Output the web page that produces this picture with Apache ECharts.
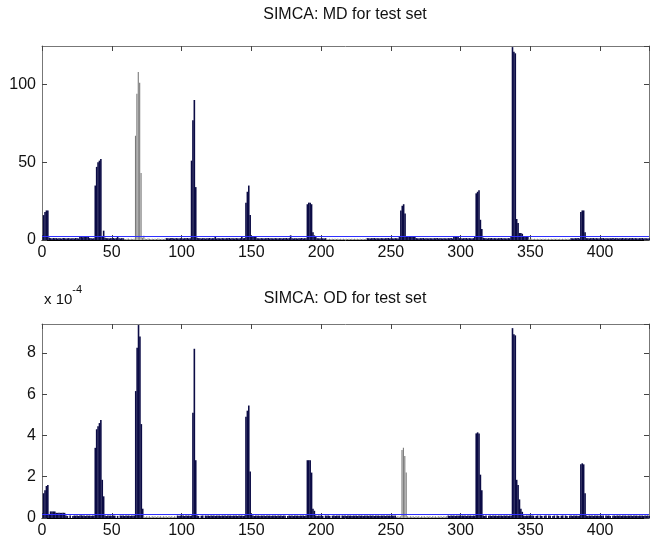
<!DOCTYPE html>
<html>
<head>
<meta charset="utf-8">
<script src="https://cdn.jsdelivr.net/npm/echarts@6/dist/echarts.min.js"></script>
<style>
  html, body { margin: 0; padding: 0; background: #fff; }
  #chart { width: 650px; height: 541px; }
</style>
</head>
<body>
<div id="chart"></div>
<script>
// sample index runs 1..435, MD values per sample
const mdValues = [
  16, 18, 19, 19, 1.5, 1.2, 1.0, 1.3, 1.1, 1.2,
  1.0, 1.2, 1.1, 0.9, 1.3, 1.2, 1.0, 1.1, 1.2, 1.0,
  1.1, 1.2, 1.0, 1.3, 1.1, 1.0, 2.0, 2.2, 1.8, 2.0,
  2.1, 1.9, 2.0, 1.2, 1.1, 1.0, 1.2, 35, 47, 50,
  51, 52, 2.0, 6, 1.5, 1.2, 1.1, 1.0, 1.2, 1.1,
  1.3, 1.0, 1.2, 2.5, 1.1, 1.0, 1.2, 1.1, 0.8, 0.7,
  0.8, 0.9, 0.7, 0.8, 0.6, 0.8, 67, 94, 108, 101,
  43, 1.5, 2.7, 0.8, 0.7, 0.9, 0.8, 0.7, 0.8, 0.6,
  0.8, 0.7, 0.9, 0.8, 0.7, 0.8, 0.7, 0.8, 1.2, 1.1,
  1.0, 1.2, 1.3, 1.1, 1.0, 1.2, 1.1, 1.0, 1.2, 1.1,
  1.0, 1.2, 1.1, 1.3, 1.0, 1.2, 51, 77, 90, 34,
  1.5, 1.2, 1.1, 1.0, 1.2, 1.1, 1.0, 1.2, 1.1, 1.3,
  1.0, 1.2, 1.1, 2.5, 1.0, 1.2, 1.1, 1.0, 1.2, 1.1,
  1.0, 1.2, 1.1, 1.3, 1.0, 1.2, 1.1, 1.0, 1.2, 1.1,
  1.0, 1.2, 2.0, 1.1, 1.3, 24, 31, 35, 16, 2.5,
  2.5, 2.5, 2.0, 1.2, 1.1, 1.0, 1.2, 1.1, 1.0, 1.2,
  1.1, 1.3, 1.0, 1.2, 1.1, 1.0, 1.2, 1.1, 1.0, 1.2,
  1.1, 1.0, 1.2, 1.1, 1.3, 1.0, 1.2, 3.0, 1.1, 1.0,
  1.2, 1.1, 1.0, 1.2, 1.1, 1.3, 1.0, 1.2, 1.1, 23,
  24, 24, 23, 5, 3, 2.5, 1.2, 1.1, 1.0, 1.2,
  1.1, 1.0, 1.2, 0.8, 0.6, 0.8, 0.7, 0.8, 0.6, 0.8,
  0.7, 0.8, 0.6, 0.8, 0.7, 0.8, 0.6, 0.8, 0.7, 0.8,
  0.6, 0.8, 0.7, 0.8, 0.6, 0.8, 0.7, 0.8, 0.6, 0.8,
  0.7, 0.8, 1.2, 1.1, 1.0, 1.2, 1.1, 1.3, 1.0, 1.2,
  1.1, 1.0, 1.2, 1.1, 1.0, 1.2, 1.1, 1.3, 1.0, 1.2,
  1.1, 1.0, 1.2, 1.1, 1.0, 2.0, 19, 22, 23, 17,
  2.5, 2.2, 2.0, 2.2, 2.0, 2.1, 2.0, 1.2, 1.1, 1.0,
  1.2, 1.1, 1.3, 1.0, 1.2, 1.1, 1.0, 1.2, 1.1, 1.0,
  1.2, 1.1, 1.3, 1.0, 1.2, 1.1, 1.0, 1.2, 1.1, 1.0,
  1.2, 1.1, 1.3, 1.0, 2.5, 2.5, 2.2, 2.5, 1.2, 1.1,
  1.0, 1.2, 1.1, 1.3, 1.0, 1.2, 1.1, 1.0, 1.2, 2.0,
  30, 31, 32, 13, 7, 1.5, 1.2, 1.1, 1.0, 1.2,
  1.1, 1.3, 1.0, 1.2, 1.1, 1.0, 1.2, 1.1, 1.3, 1.0,
  1.2, 1.1, 1.0, 1.2, 1.1, 2.0, 124, 121, 120, 13.5,
  11, 4.5, 4.5, 4.0, 2.5, 2.5, 2.2, 2.5, 0.8, 0.6,
  0.8, 0.7, 0.8, 0.6, 0.8, 0.7, 0.8, 0.6, 0.8, 0.7,
  0.8, 0.6, 0.8, 0.7, 0.8, 0.6, 0.8, 0.7, 0.8, 0.6,
  0.8, 0.7, 0.8, 0.6, 0.8, 0.7, 0.8, 0.6, 1.2, 1.1,
  1.0, 1.2, 1.1, 1.3, 1.0, 18, 19, 19, 5, 1.2,
  1.1, 1.0, 1.2, 1.1, 1.3, 1.0, 1.2, 1.1, 1.0, 1.2,
  1.1, 1.3, 1.0, 1.2, 1.1, 1.0, 1.2, 1.1, 1.3, 1.0,
  1.2, 1.1, 1.0, 1.2, 1.1, 1.3, 1.0, 1.2, 1.1, 1.0,
  1.2, 1.1, 1.3, 1.0, 1.2, 1.1, 1.0, 1.2, 1.1, 1.3,
  1.0, 1.2, 1.1, 1.0, 1.2
];

// OD values, in units of 1e-4
const odValues = [
  1.2, 1.35, 1.55, 1.6, 0.15, 0.32, 0.32, 0.32, 0.32, 0.25,
  0.25, 0.25, 0.25, 0.25, 0.25, 0.25, 0.12, 0.1, 0, 0.12,
  0, 0.1, 0.12, 0.11, 0.12, 0.1, 0.12, 0.13, 0.11, 0.12,
  0.1, 0.12, 0.11, 0.12, 0.1, 0.12, 0.11, 3.4, 4.3, 4.45,
  4.6, 4.75, 1.85, 1.05, 0.12, 0.1, 0.12, 0.11, 0.12, 0.1,
  0.12, 0.11, 0, 0.1, 0, 0.12, 0.11, 0.12, 0.1, 0.12,
  0.11, 0.12, 0.1, 0.12, 0.11, 0.12, 6.15, 8.25, 9.35, 8.8,
  4.55, 0.45, 0.08, 0.05, 0.08, 0.06, 0.08, 0.05, 0.08, 0.06,
  0.08, 0.05, 0.08, 0.06, 0.08, 0.05, 0.08, 0.06, 0.08, 0.05,
  0.08, 0.06, 0.08, 0.05, 0.08, 0.06, 0.12, 0.1, 0.12, 0.11,
  0.12, 0.1, 0.12, 0.11, 0.12, 0.1, 0.12, 5.1, 8.2, 2.8,
  0.12, 0.1, 0, 0.11, 0.12, 0, 0.12, 0.11, 0.12, 0.1,
  0.12, 0.11, 0.12, 0.1, 0.12, 0.11, 0.12, 0.1, 0.12, 0.11,
  0.12, 0.1, 0.12, 0.11, 0.12, 0.1, 0.12, 0.11, 0.12, 0.1,
  0.12, 0.11, 0.12, 0.1, 0.12, 4.9, 5.2, 5.45, 2.25, 0.15,
  0.12, 0.1, 0.12, 0.11, 0.12, 0.1, 0.12, 0.11, 0.12, 0.1,
  0.12, 0.11, 0.12, 0.1, 0.12, 0.11, 0.12, 0.1, 0.12, 0.11,
  0.12, 0.1, 0.12, 0.11, 0, 0.1, 0.12, 0.11, 0.12, 0.1,
  0.12, 0.11, 0.12, 0.1, 0.12, 0.11, 0.12, 0.1, 0.12, 2.8,
  2.8, 2.8, 2.2, 0.45, 0.35, 0.12, 0.1, 0.12, 0.11, 0.12,
  0.1, 0, 0.12, 0.11, 0.12, 0.1, 0, 0.11, 0.12, 0.1,
  0.12, 0.11, 0.12, 0, 0.12, 0.11, 0.12, 0.1, 0.12, 0.11,
  0.12, 0.1, 0.12, 0.11, 0.12, 0.1, 0.12, 0.11, 0.12, 0.1,
  0.12, 0.11, 0.12, 0.1, 0.12, 0.11, 0.12, 0.1, 0.12, 0.11,
  0.12, 0.1, 0.12, 0.11, 0.12, 0.1, 0.12, 0.11, 0.12, 0.1,
  0.12, 0.11, 0.12, 0.05, 0.08, 0.06, 0.08, 3.3, 3.4, 3.0,
  2.2, 0.08, 0.05, 0.08, 0.06, 0.08, 0.05, 0.08, 0.06, 0.08,
  0.05, 0.08, 0.06, 0.08, 0.05, 0.08, 0.06, 0.08, 0.05, 0.08,
  0.06, 0.08, 0.05, 0.08, 0.06, 0.08, 0.05, 0.08, 0.06, 0.08,
  0.12, 0.1, 0.12, 0.11, 0.12, 0.1, 0.12, 0.11, 0.12, 0.1,
  0.12, 0.11, 0.12, 0.1, 0.12, 0.11, 0.12, 0.1, 0.12, 0.11,
  4.1, 4.15, 4.1, 2.1, 1.35, 0.12, 0.1, 0.12, 0, 0.11,
  0.12, 0.1, 0.12, 0.11, 0.12, 0.1, 0.12, 0.11, 0.12, 0.1,
  0.12, 0.11, 0.12, 0.1, 0.12, 0.11, 9.2, 8.9, 8.85, 1.85,
  1.6, 0.9, 0.45, 0.3, 0.12, 0.1, 0.12, 0.11, 0.12, 0.1,
  0.12, 0.11, 0, 0.1, 0.12, 0, 0.12, 0.1, 0, 0.11,
  0.12, 0, 0.12, 0.11, 0, 0.1, 0.12, 0, 0.12, 0.1,
  0, 0.11, 0.12, 0, 0.12, 0.1, 0, 0.11, 0.12, 0.1,
  0.12, 0.11, 0.12, 0.1, 0.12, 2.6, 2.65, 2.6, 1.2, 0.12,
  0.1, 0.12, 0.11, 0.12, 0.1, 0.12, 0.11, 0.12, 0.1, 0.12,
  0.11, 0.12, 0, 0.12, 0.11, 0.12, 0.1, 0, 0.11, 0.12,
  0.1, 0.12, 0.11, 0.12, 0.1, 0.12, 0.11, 0.12, 0.1, 0.12,
  0.11, 0.12, 0.1, 0.12, 0.11, 0.12, 0.1, 0.12, 0.11, 0.12,
  0.1, 0.12, 0.11, 0.12, 0.1
];

// sample ranges drawn in grey
const mdGray = [[59, 88], [204, 232], [349, 378]];
const odGray = [[73, 96], [254, 290]];

// limits (blue lines)
const mdLimit = 2.2;
const odLimit = 0.17;

const xMax = 435;
const mdMax = 124.7;
const odMax = 9.4;

const FONT = '"Liberation Sans", Arial, Helvetica, sans-serif';
const NAVY = '#0b0b45';
const GREY = '#7a7a7a';

function inRanges(i, ranges) {
  return ranges.some(r => i >= r[0] && i <= r[1]);
}

function split(values, ranges) {
  let navy = [], grey = [];
  values.forEach((v, k) => {
    let i = k + 1;
    if (inRanges(i, ranges)) grey.push([i, v]);
    else navy.push([i, v]);
  });
  return { navy, grey };
}

const md = split(mdValues, mdGray);
const od = split(odValues, odGray);

function xAxisBottom(g) {
  return {
    gridIndex: g, type: 'value', position: 'bottom', min: 0, max: xMax, interval: 50,
    axisLine: { onZero: false, lineStyle: { color: '#000', width: 1 } },
    axisTick: { inside: true, length: 5, lineStyle: { color: '#444' } },
    axisLabel: { fontSize: 16, color: '#111', margin: 5, fontFamily: FONT, showMaxLabel: false },
    splitLine: { show: false }
  };
}
function xAxisTop(g) {
  return {
    gridIndex: g, type: 'value', position: 'top', min: 0, max: xMax, interval: 50,
    axisLine: { onZero: false, lineStyle: { color: '#777', width: 1 } },
    axisTick: { inside: true, length: 5, lineStyle: { color: '#444' } },
    axisLabel: { show: false },
    splitLine: { show: false }
  };
}
function yAxisLeft(g, max, step) {
  return {
    gridIndex: g, type: 'value', position: 'left', min: 0, max: max, interval: step,
    axisLine: { show: true, onZero: false, lineStyle: { color: '#777', width: 1 } },
    axisTick: { show: true, inside: true, length: 5, lineStyle: { color: '#444' } },
    axisLabel: { fontSize: 16, color: '#111', margin: 6, fontFamily: FONT, showMaxLabel: false },
    splitLine: { show: false }
  };
}
function yAxisRight(g, max, step) {
  return {
    gridIndex: g, type: 'value', position: 'right', min: 0, max: max, interval: step,
    axisLine: { show: true, onZero: false, lineStyle: { color: '#777', width: 1 } },
    axisTick: { show: true, inside: true, length: 5, lineStyle: { color: '#444' } },
    axisLabel: { show: false },
    splitLine: { show: false }
  };
}

function limitLine(v) {
  return {
    silent: true, symbol: 'none', label: { show: false },
    lineStyle: { color: '#3030ff', width: 1.2, type: 'solid' },
    data: [{ yAxis: v }]
  };
}

let chart = echarts.init(document.getElementById('chart'));
let option = {
  animation: false,
  backgroundColor: '#fff',
  textStyle: { fontFamily: FONT },
  grid: [
    { left: 42, top: 46, width: 607, height: 194, outerBoundsMode: 'none', containLabel: false },
    { left: 42, top: 324, width: 607, height: 194, outerBoundsMode: 'none', containLabel: false }
  ],
  graphic: [
    { type: 'text', x: 345, y: 7, style: { text: 'SIMCA: MD for test set', fill: '#111', font: '16px ' + FONT, textAlign: 'center' } },
    { type: 'text', x: 345, y: 291, style: { text: 'SIMCA: OD for test set', fill: '#111', font: '16px ' + FONT, textAlign: 'center' } },
    { type: 'text', x: 44, y: 284, style: {
        text: '{a|x 10}{b|-4}', fill: '#111',
        rich: { a: { fontSize: 15, fontFamily: FONT, padding: [8, 0, 0, 0] }, b: { fontSize: 11, fontFamily: FONT, verticalAlign: 'top' } }
      } }
  ],
  xAxis: [xAxisBottom(0), xAxisTop(0), xAxisBottom(1), xAxisTop(1)],
  yAxis: [yAxisLeft(0, mdMax, 50), yAxisRight(0, mdMax, 50), yAxisLeft(1, odMax, 2), yAxisRight(1, odMax, 2)],
  series: [
    { type: 'bar', xAxisIndex: 0, yAxisIndex: 0, data: md.navy, barWidth: 1.6, itemStyle: { color: NAVY }, markLine: limitLine(mdLimit) },
    { type: 'bar', xAxisIndex: 0, yAxisIndex: 0, data: md.grey, barWidth: 1.1, barGap: '-100%', itemStyle: { color: GREY } },
    { type: 'bar', xAxisIndex: 2, yAxisIndex: 2, data: od.navy, barWidth: 1.6, itemStyle: { color: NAVY }, markLine: limitLine(odLimit) },
    { type: 'bar', xAxisIndex: 2, yAxisIndex: 2, data: od.grey, barWidth: 1.1, barGap: '-100%', itemStyle: { color: GREY } }
  ]
};
chart.setOption(option);
</script>
</body>
</html>
